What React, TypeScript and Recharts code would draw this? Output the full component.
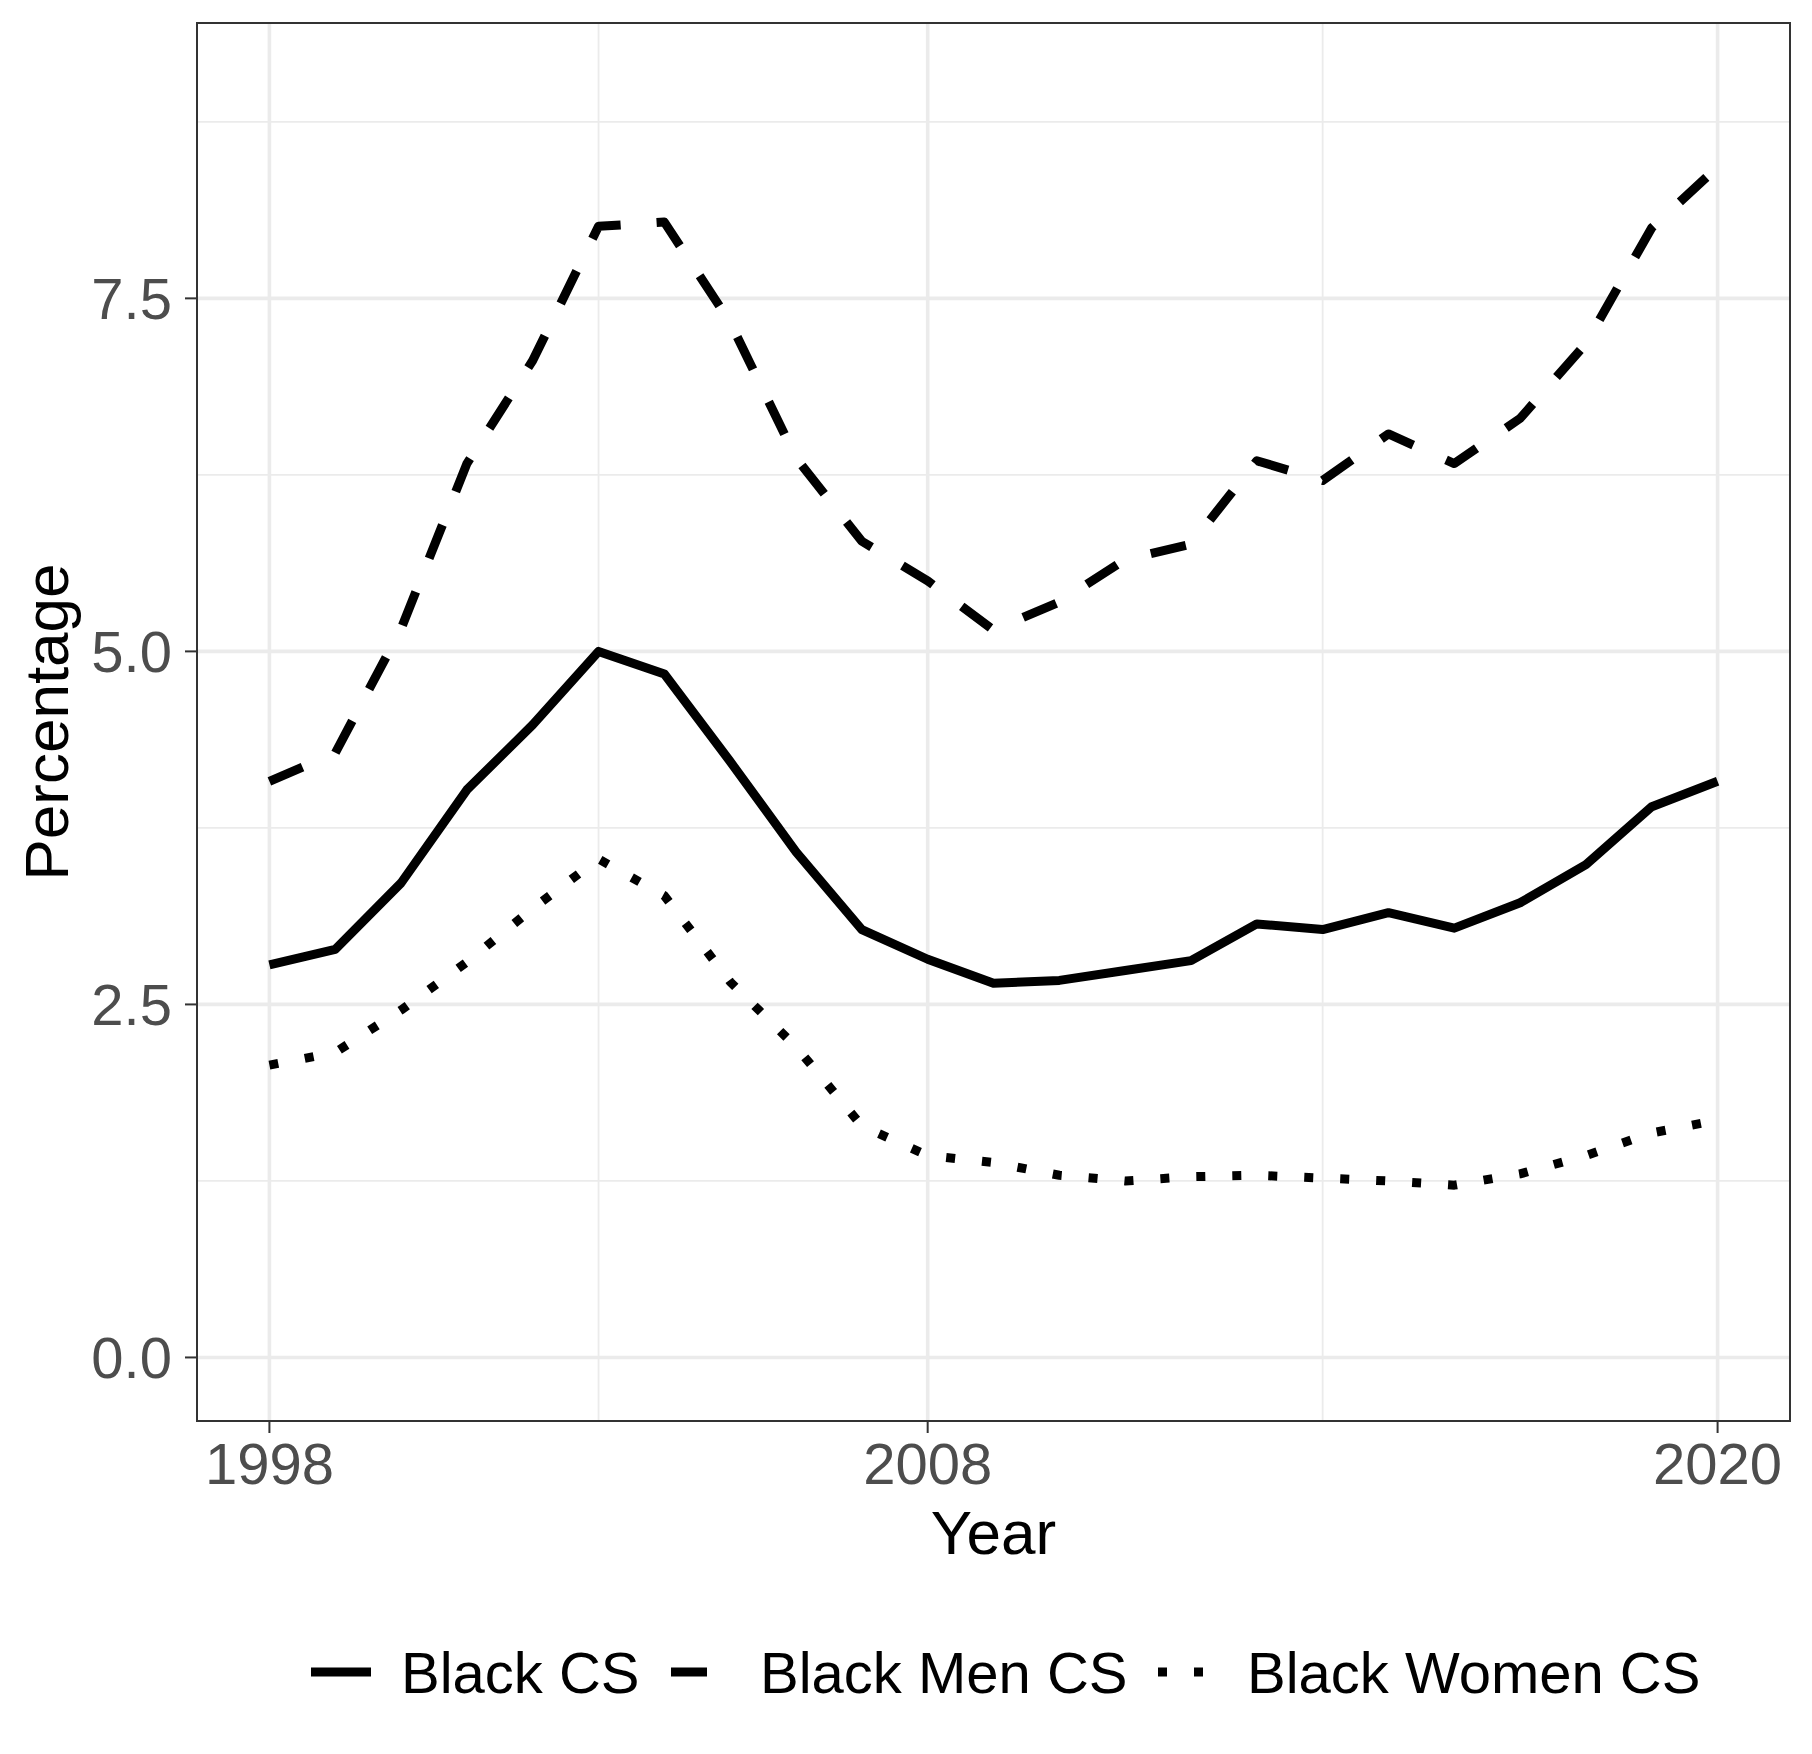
/* Black CS / Black Men CS / Black Women CS percentage by year, ggplot theme_bw look */

import {
  LineChart,
  Line,
  XAxis,
  YAxis,
  CartesianGrid,
  ReferenceArea,
  Legend,
} from "recharts";

document.body.style.margin = "0";

const YEARS = [
  1998, 1999, 2000, 2001, 2002, 2003, 2004, 2005, 2006, 2007, 2008, 2009,
  2010, 2011, 2012, 2013, 2014, 2015, 2016, 2017, 2018, 2019, 2020,
];

const BLACK_CS = [
  2.78, 2.89, 3.36, 4.02, 4.48, 5.0, 4.84, 4.22, 3.58, 3.03, 2.82, 2.65, 2.67,
  2.74, 2.81, 3.07, 3.03, 3.15, 3.04, 3.22, 3.49, 3.9, 4.08,
];

const BLACK_MEN_CS = [
  4.08, 4.28, 5.16, 6.33, 7.06, 8.01, 8.04, 7.33, 6.37, 5.78, 5.5, 5.15, 5.35,
  5.65, 5.76, 6.35, 6.21, 6.54, 6.33, 6.65, 7.18, 8.0, 8.43,
];

const BLACK_WOMEN_CS = [
  2.07, 2.16, 2.46, 2.8, 3.18, 3.53, 3.27, 2.66, 2.2, 1.64, 1.43, 1.38, 1.29,
  1.25, 1.28, 1.29, 1.27, 1.25, 1.22, 1.3, 1.43, 1.59, 1.68,
];

const X_TICKS = [1998, 2008, 2020];
const X_MINOR = [2003, 2014];
const Y_TICKS = [0, 2.5, 5, 7.5];
const Y_MINOR = [1.25, 3.75, 6.25, 8.75];

const X_DOMAIN: [number, number] = [1996.9, 2021.1];
const Y_DOMAIN: [number, number] = [-0.45, 9.45];

const SERIES = [
  { key: "blackCS", name: "Black CS", dash: undefined as string | undefined },
  { key: "blackMenCS", name: "Black Men CS", dash: "36 36" },
  { key: "blackWomenCS", name: "Black Women CS", dash: "9 27" },
];

// legend key / label positions (px, page coords)
const LEGEND_POS: Record<string, { x1: number; x2: number; tx: number }> = {
  blackCS: { x1: 311, x2: 371, tx: 401 },
  blackMenCS: { x1: 671, x2: 707, tx: 760 },
  blackWomenCS: { x1: 1158, x2: 1218, tx: 1247 },
};

const FONT = "'Liberation Sans', Arial, Helvetica, sans-serif";

const data = YEARS.map((year, i) => ({
  year,
  blackCS: BLACK_CS[i],
  blackMenCS: BLACK_MEN_CS[i],
  blackWomenCS: BLACK_WOMEN_CS[i],
}));

function renderLegend(props: any) {
  const payload = props.payload || [];
  return (
    <svg width={1812} height={100} style={{ display: "block" }}>
      {payload.map((p: any) => {
        const s = SERIES.find((d) => d.key === p.dataKey);
        const pos = LEGEND_POS[p.dataKey];
        if (!s || !pos) return null;
        return (
          <g key={s.key}>
            <line
              x1={pos.x1}
              x2={pos.x2}
              y1={50}
              y2={50}
              stroke="#000"
              strokeWidth={9}
              strokeDasharray={s.dash}
            />
            <text x={pos.tx} y={71} fontSize={58} fill="#000" fontFamily={FONT}>
              {s.name}
            </text>
          </g>
        );
      })}
    </svg>
  );
}

function XTitle(props: any) {
  const vb = props.viewBox || { x: 0, y: 0, width: 0 };
  return (
    <text
      x={vb.x + vb.width / 2}
      y={vb.y + 133}
      textAnchor="middle"
      fontSize={62}
      fill="#000"
      fontFamily={FONT}
    >
      Year
    </text>
  );
}

function YTitle(props: any) {
  const vb = props.viewBox || { x: 0, y: 0, height: 0 };
  const cx = 68;
  const cy = vb.y + vb.height / 2;
  return (
    <text
      x={cx}
      y={cy}
      transform={`rotate(-90, ${cx}, ${cy})`}
      textAnchor="middle"
      fontSize={62}
      fill="#000"
      fontFamily={FONT}
    >
      Percentage
    </text>
  );
}

export default function App() {
  return (
    <div style={{ width: 1812, height: 1754, background: "#fff" }}>
      <LineChart
        width={1812}
        height={1754}
        data={data}
        margin={{ top: 23, right: 22, bottom: 0, left: 0 }}
        style={{ fontFamily: FONT }}
      >
        <CartesianGrid
          stroke="#EBEBEB"
          strokeWidth={1.8}
          horizontalValues={Y_MINOR}
          verticalValues={X_MINOR}
          syncWithTicks
        />
        <CartesianGrid
          stroke="#EBEBEB"
          strokeWidth={3.6}
          horizontalValues={Y_TICKS}
          verticalValues={X_TICKS}
          syncWithTicks
        />
        <XAxis
          type="number"
          dataKey="year"
          domain={X_DOMAIN}
          ticks={X_TICKS}
          allowDataOverflow
          height={333}
          axisLine={false}
          tickSize={12}
          tickMargin={10}
          tickLine={{ stroke: "#333333", strokeWidth: 2 }}
          tick={{ fontSize: 58, fill: "#4D4D4D" }}
          interval={0}
          label={<XTitle />}
        />
        <YAxis
          type="number"
          domain={Y_DOMAIN}
          ticks={Y_TICKS}
          allowDataOverflow
          width={197}
          axisLine={false}
          tickSize={12}
          tickMargin={13}
          tickLine={{ stroke: "#333333", strokeWidth: 2 }}
          tick={{ fontSize: 58, fill: "#4D4D4D" }}
          tickFormatter={(v: number) => v.toFixed(1)}
          interval={0}
          label={<YTitle />}
        />
        {SERIES.map((s) => (
          <Line
            key={s.key}
            type="linear"
            dataKey={s.key}
            name={s.name}
            stroke="#000"
            strokeWidth={9}
            strokeDasharray={s.dash}
            strokeLinejoin="round"
            dot={false}
            activeDot={false}
            isAnimationActive={false}
          />
        ))}
        <ReferenceArea
          x1={X_DOMAIN[0]}
          x2={X_DOMAIN[1]}
          y1={Y_DOMAIN[0]}
          y2={Y_DOMAIN[1]}
          fill="none"
          fillOpacity={0}
          stroke="#333333"
          strokeWidth={2}
          ifOverflow="visible"
        />
        <Legend
          layout="horizontal"
          verticalAlign="middle"
          align="center"
          content={renderLegend}
          wrapperStyle={{ top: 1622, left: 0, width: 1812, height: 100 }}
        />
      </LineChart>
    </div>
  );
}
